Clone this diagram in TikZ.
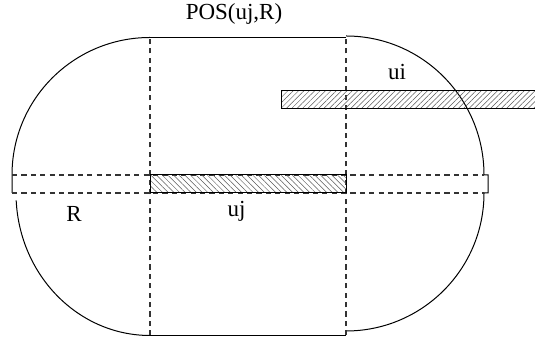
\documentclass[tikz,border=0pt]{standalone}
\usepackage{fontspec}
\setmainfont{Liberation Serif}
\usepackage{tikz}
\usetikzlibrary{patterns.meta}

\begin{document}
\begin{tikzpicture}[x=0.5pt, y=0.5pt,
    outline/.style={line width=0.5pt, draw=black},
    guide/.style={line width=0.6pt, draw=black!80, dash pattern=on 2.6pt off 2.1pt},
    hatchne/.style={pattern={Lines[angle=45, distance=1.9pt, line width=0.25pt]}, pattern color=black!65},
    hatchnw/.style={pattern={Lines[angle=-45, distance=2pt, line width=0.25pt]}, pattern color=black!65},
    lbl/.style={font=\fontsize{11.5}{13}\selectfont, anchor=base}]
        \useasboundingbox (0,0) rectangle (535,341);
        % Region boundary: straight top and bottom
        \draw[outline] (150,303.5) -- (346,303.5);
        \draw[outline] (150,5.5) -- (346,5.5);
        % Left caps
        \draw[outline] (150,303.5)
          arc[start angle=90, end angle=180, x radius=138, y radius=137.5]
          -- (12,148);
        \draw[outline] (150,5.5)
          arc[start angle=270, end angle=183, x radius=134, y radius=142.5];
        % Right caps
        \draw[outline] (346,305)
          arc[start angle=90, end angle=0, x radius=138, y radius=139]
          -- (488,166) -- (488,148) -- (484,148);
        \draw[outline] (484,148)
          arc[start angle=0, end angle=-90, x radius=138, y radius=138];
        % Dashed guides
        \draw[guide] (150,5.5) -- (150,303.5);
        \draw[guide] (346,5.5) -- (346,303.5);
        \draw[guide] (12,166) -- (484,166);
        \draw[guide] (12,148) -- (484,148);
        % Segment uj
        \fill[hatchnw] (150,148) rectangle (346,166);
        \draw[outline] (150,148) rectangle (346,166);
        % Segment ui (runs off to the right)
        \fill[hatchne] (281,232) rectangle (535,250);
        \draw[outline] (535,250) -- (281,250) -- (281,232) -- (535,232);
        % Labels
        \node[lbl] (pos) at (234,321) {POS(uj,R)};
        \node[lbl] (ui) at (397,261) {ui};
        \node[lbl] (uj) at (236.5,124) {uj};
        \node[lbl] (rad) at (74,119) {R};
      \end{tikzpicture}
\end{document}
